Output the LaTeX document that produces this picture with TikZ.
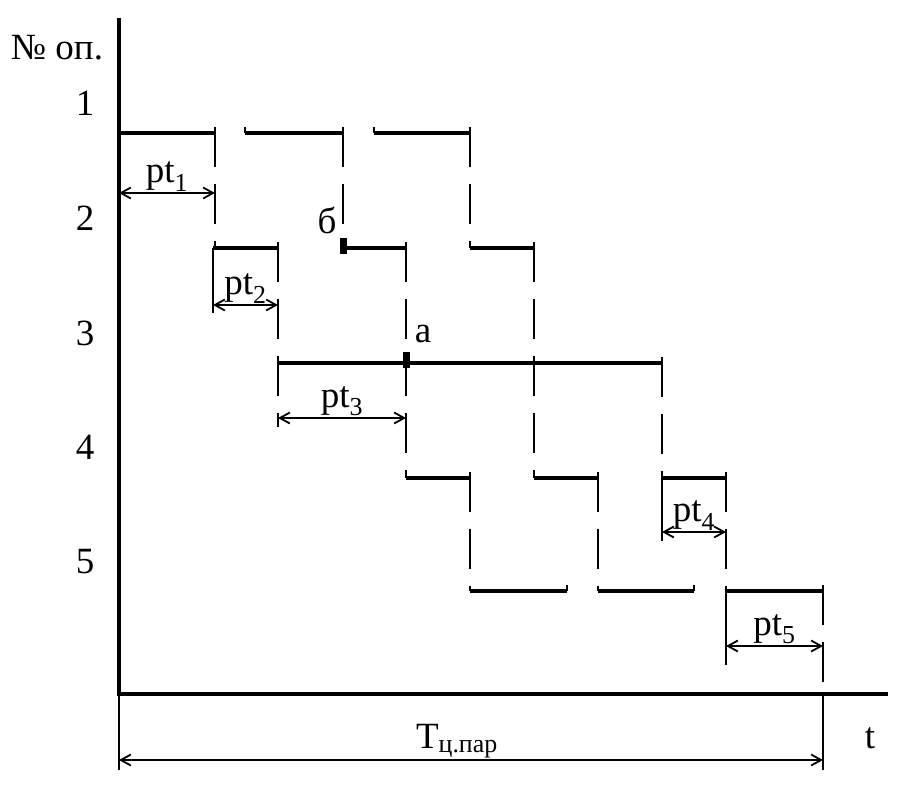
\documentclass[tikz,border=0pt]{standalone}
\usepackage{fontspec}
\setmainfont{Liberation Serif}
\usetikzlibrary{arrows.meta}

\tikzset{
  axis/.style={line width=3.6pt},
  oper/.style={line width=3.4pt},
  link/.style={line width=2.2pt, dash pattern=on 40pt off 17pt},
  ext/.style={line width=2.2pt},
  dim/.style={line width=1.8pt, {Straight Barb[length=10pt,width=11pt]}-{Straight Barb[length=10pt,width=11pt]}},
  lbl/.style={font=\fontsize{37}{42}\selectfont, inner sep=1pt},
}

\begin{document}
\begin{tikzpicture}[x=1pt, y=-1pt]
 \useasboundingbox (0,0) rectangle (920,798);
 % axes
 \draw[axis] (119,18) -- (119,694) -- (888,694);
 \node[lbl] (nop) at (57,48) {№ оп.};
 \node[lbl] (n1) at (85,103) {1};
 \node[lbl] (n2) at (85,218) {2};
 \node[lbl] (n3) at (85,333) {3};
 \node[lbl] (n4) at (85,447) {4};
 \node[lbl] (n5) at (85,562) {5};
 \node[lbl] (tt) at (870,738) {t};
 % operation bars
 \draw[oper] (119,133) -- (215,133);
 \draw[oper] (245,133) -- (343,133);
 \draw[oper] (374,133) -- (470,133);
 \draw[oper] (213,248) -- (278,248);
 \draw[oper] (343,248) -- (406,248);
 \draw[oper] (470,248) -- (534,248);
 \draw[oper] (278,363) -- (662,363);
 \draw[oper] (406,478) -- (470,478);
 \draw[oper] (534,478) -- (598,478);
 \draw[oper] (662,478) -- (726,478);
 \draw[oper] (470,591) -- (567,591);
 \draw[oper] (598,591) -- (694,591);
 \draw[oper] (726,591) -- (823,591);
 % small ticks at free bar ends
 \draw[ext] (245,127) -- (245,133);
 \draw[ext] (374,127) -- (374,133);
 \draw[ext] (567,585) -- (567,591);
 \draw[ext] (694,585) -- (694,591);
 % transfers between operations
 \draw[link] (215,127) -- (215,248);
 \draw[link] (343,127) -- (343,248);
 \draw[link] (470,127) -- (470,248);
 \draw[link] (278,242) -- (278,427);
 \draw[link] (406,242) -- (406,478);
 \draw[link] (534,242) -- (534,478);
 \draw[link] (662,357) -- (662,478);
 \draw[link] (470,472) -- (470,591);
 \draw[link] (598,472) -- (598,591);
 \draw[link] (726,472) -- (726,591);
 \draw[link] (823,585) -- (823,694);
 % extension lines
 \draw[ext] (213,248) -- (213,313);
 \draw[ext] (662,478) -- (662,541);
 \draw[ext] (726,591) -- (726,665);
 \draw[ext] (119,694) -- (119,770);
 \draw[ext] (823,694) -- (823,770);
 % points a and b
 \fill (340,238) rectangle (347,254);
 \node[lbl] (pb) at (327,220) {б};
 \fill (403,352) rectangle (410,368);
 \node[lbl] (pa) at (423,334) {а};
 % dimensions
 \coordinate (d1a) at (119,193); \coordinate (d1b) at (215,193);
 \coordinate (d2a) at (213,305); \coordinate (d2b) at (278,305);
 \coordinate (d3a) at (278,418); \coordinate (d3b) at (406,418);
 \coordinate (d4a) at (662,532); \coordinate (d4b) at (726,532);
 \coordinate (d5a) at (726,646); \coordinate (d5b) at (823,646);
 \coordinate (dTa) at (119,760); \coordinate (dTb) at (823,760);
 \draw[dim] (d1a) -- (d1b) node[lbl, midway, above] (pt1) {pt\textsubscript{1}};
 \draw[dim] (d2a) -- (d2b) node[lbl, midway, above] (pt2) {pt\textsubscript{2}};
 \draw[dim] (d3a) -- (d3b) node[lbl, midway, above] (pt3) {pt\textsubscript{3}};
 \draw[dim] (d4a) -- (d4b) node[lbl, midway, above] (pt4) {pt\textsubscript{4}};
 \draw[dim] (d5a) -- (d5b) node[lbl, midway, above] (pt5) {pt\textsubscript{5}};
 \draw[dim] (dTa) -- (dTb) node[lbl, pos=0.48, above] (tc) {T\textsubscript{ц.пар}};
\end{tikzpicture}
\end{document}
